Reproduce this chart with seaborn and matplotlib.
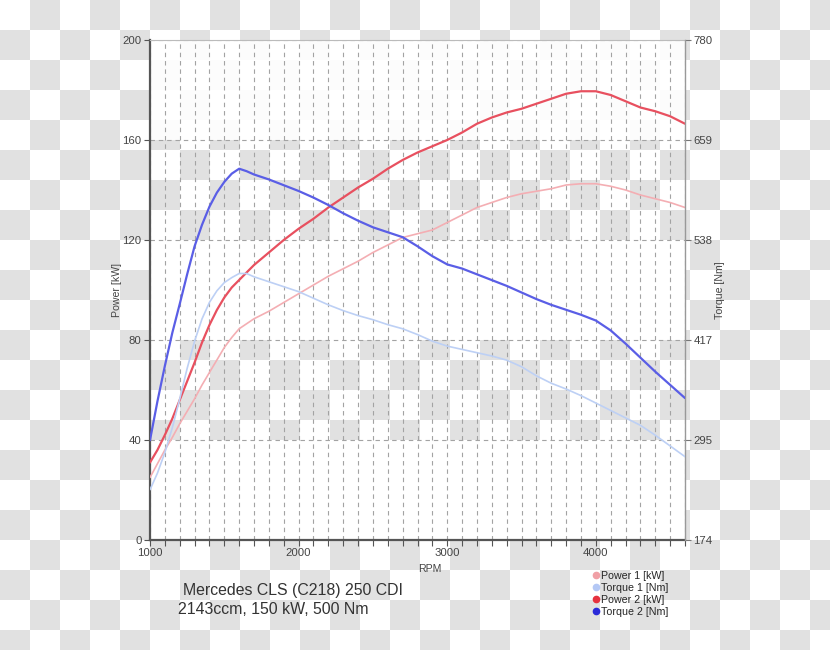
import numpy as np
import pandas as pd
import matplotlib
matplotlib.use("Agg")
import matplotlib.pyplot as plt
import seaborn as sns
from matplotlib.ticker import FixedLocator, MultipleLocator
from matplotlib.lines import Line2D

# ---------------- data ----------------
rpm = [1000, 1050, 1100, 1150, 1200, 1250, 1300, 1350, 1400, 1450,
       1500, 1550, 1600, 1650, 1700, 1800, 1900,
       2000, 2100, 2200, 2300, 2400, 2500, 2600, 2700, 2800, 2900,
       3000, 3100, 3200, 3300, 3400, 3500, 3600, 3700, 3800, 3900,
       4000, 4100, 4200, 4300, 4400, 4500, 4600]

power1 = [25, 30.5, 36, 41, 46.5, 51.5, 56.5, 62, 67, 72,
          77, 81, 84.5, 86.5, 88.5, 91.5, 95,
          98.5, 102, 105.5, 108.5, 111.5, 115, 118, 121, 122.5, 124,
          127, 130, 133, 135, 137, 138.5, 139.5, 140.5, 142, 142.5,
          142.5, 141.5, 140, 138, 136.5, 135, 133]

torque1 = [235, 255, 280, 310, 345, 382, 415, 442, 462, 476,
           486, 492, 497, 497, 493, 487, 481,
           475, 467, 459, 452, 446, 441, 435, 430, 423, 415,
           409, 405, 401, 397, 392, 384, 373, 364, 357, 349,
           340, 331, 322, 313, 301, 288, 275]

power2 = [31, 36, 42, 48.5, 56, 63.5, 71, 79, 86, 92,
          97, 101, 104, 107, 110, 115, 120,
          124.5, 128.5, 133, 137, 141, 144.5, 148.5, 152, 155, 157.5,
          160, 163, 166.5, 169, 171, 172.5, 174.5, 176.5, 178.5, 179.5,
          179.5, 178, 175.5, 173, 171.5, 169.5, 166.5]

torque2 = [295, 342, 385, 425, 460, 496, 530, 556, 578, 595,
           608, 618, 624, 621, 617, 611, 604,
           597, 589, 580, 570, 561, 553, 547, 541, 530, 518,
           508, 503, 496, 489, 482, 474, 466, 459, 453, 447,
           440, 428, 412, 395, 378, 362, 346]

series_names = ["Power 1 [kW]", "Torque 1 [Nm]", "Power 2 [kW]", "Torque 2 [Nm]"]
power_ticks = [0, 40, 80, 120, 160, 200]
torque_ticks = [174, 295, 417, 538, 659, 780]
rpm_ticks = [1000, 2000, 3000, 4000]
title_lines = ["Mercedes CLS (C218) 250 CDI", "2143ccm, 150 kW, 500 Nm"]

# ---------------- style ----------------
sns.set_style("white")
plt.rcParams["font.family"] = ["Liberation Sans", "DejaVu Sans"]

col_p1 = "#f4aeb3"
col_t1 = "#bdd0f5"
col_p2 = "#e8505f"
col_t2 = "#5a5ee6"
mk_cols = ["#f0a0a6", "#b4c8f5", "#e6323f", "#2a2ad8"]

W, H = 830, 650
fig = plt.figure(figsize=(W / 100, H / 100), dpi=100)

# transparent-background checkerboard look
yy, xx = np.mgrid[0:H, 0:W]
check = ((xx // 30 + yy // 30) % 2).astype(bool)
bg = np.where(check[..., None], 225 / 255, 1.0) * np.ones(3)
fig.figimage(bg, 0, 0, zorder=-10, origin="upper")

ax = fig.add_axes([150 / W, 110 / H, 535 / W, 500 / H])
ax.set_facecolor("none")
ax.axhspan(0, 40, color="white", lw=0, zorder=0.1)
ax.axhspan(80, 120, color="white", lw=0, zorder=0.1)
ax.axhspan(160, 200, color="white", alpha=0.93, lw=0, zorder=0.1)

df = pd.DataFrame({"rpm": rpm, "p1": power1, "t1": torque1,
                   "p2": power2, "t2": torque2})

sns.lineplot(data=df, x="rpm", y="p1", ax=ax, color=col_p1, lw=1.2, zorder=3)
sns.lineplot(data=df, x="rpm", y="p2", ax=ax, color=col_p2, lw=1.6, zorder=4)

ax2 = ax.twinx()
ax2.set_facecolor("none")
sns.lineplot(data=df, x="rpm", y="t1", ax=ax2, color=col_t1, lw=1.2, zorder=3)
sns.lineplot(data=df, x="rpm", y="t2", ax=ax2, color=col_t2, lw=1.6, zorder=4)

ax.set_xlim(1000, 4600)
ax.set_ylim(0, 200)
ax2.set_ylim(174, 780)

ax.xaxis.set_major_locator(FixedLocator(rpm_ticks))
ax.xaxis.set_minor_locator(MultipleLocator(100))
ax.set_yticks(power_ticks)
ax2.set_yticks(torque_ticks)

dash = (0, (4, 3.5))
ax.grid(axis="x", which="both", ls=dash, color="#a3a3a3", lw=0.8)
ax.grid(axis="y", which="major", ls=dash, color="#a3a3a3", lw=0.8)
ax2.grid(False)

for a in (ax, ax2):
    a.set_xlabel("")
    a.set_ylabel("")

ax.spines["left"].set_color("#555555")
ax.spines["left"].set_linewidth(1.6)
ax.spines["bottom"].set_color("#555555")
ax.spines["bottom"].set_linewidth(1.6)
ax.spines["right"].set_visible(False)
ax.spines["top"].set_color("#bbbbbb")
ax.spines["top"].set_linewidth(0.8)
for s in ("left", "bottom", "top"):
    ax2.spines[s].set_visible(False)
ax2.spines["right"].set_color("#999999")
ax2.spines["right"].set_linewidth(1.0)

ax.tick_params(axis="x", which="both", bottom=True, direction="out", length=4,
               width=0.8, color="#555555", labelsize=8.2, labelcolor="#444444", pad=2)
ax.tick_params(axis="y", left=True, direction="out", length=4, width=0.8,
               color="#555555", labelsize=8.2, labelcolor="#444444", pad=2)
ax2.tick_params(axis="y", right=True, direction="out", length=4, width=0.8,
                color="#777777", labelsize=8.2, labelcolor="#444444", pad=2)

fig.text(117 / W, 1 - 290 / H, "Power [kW]", rotation=90, ha="center", va="center",
         fontsize=7.6, color="#444444")
fig.text(720 / W, 1 - 290 / H, "Torque [Nm]", rotation=90, ha="center", va="center",
         fontsize=7.6, color="#444444")
fig.text(430 / W, 1 - 569 / H, "RPM", ha="center", va="center",
         fontsize=7.6, color="#444444")

fig.text(183 / W, 1 - 590 / H, title_lines[0], ha="left", va="center",
         fontsize=11.4, color="#333333")
fig.text(178 / W, 1 - 609 / H, title_lines[1], ha="left", va="center",
         fontsize=11.4, color="#333333")

handles = [Line2D([0], [0], marker="o", ls="", color=c, markersize=4.5) for c in mk_cols]
fig.legend(handles, series_names, loc="upper left",
           bbox_to_anchor=(592 / W, 1 - 571 / H), frameon=False, fontsize=7.7,
           handlelength=0.7, handletextpad=0.15, labelspacing=0.18,
           borderpad=0, borderaxespad=0)

fig.savefig("out.png", dpi=100)
